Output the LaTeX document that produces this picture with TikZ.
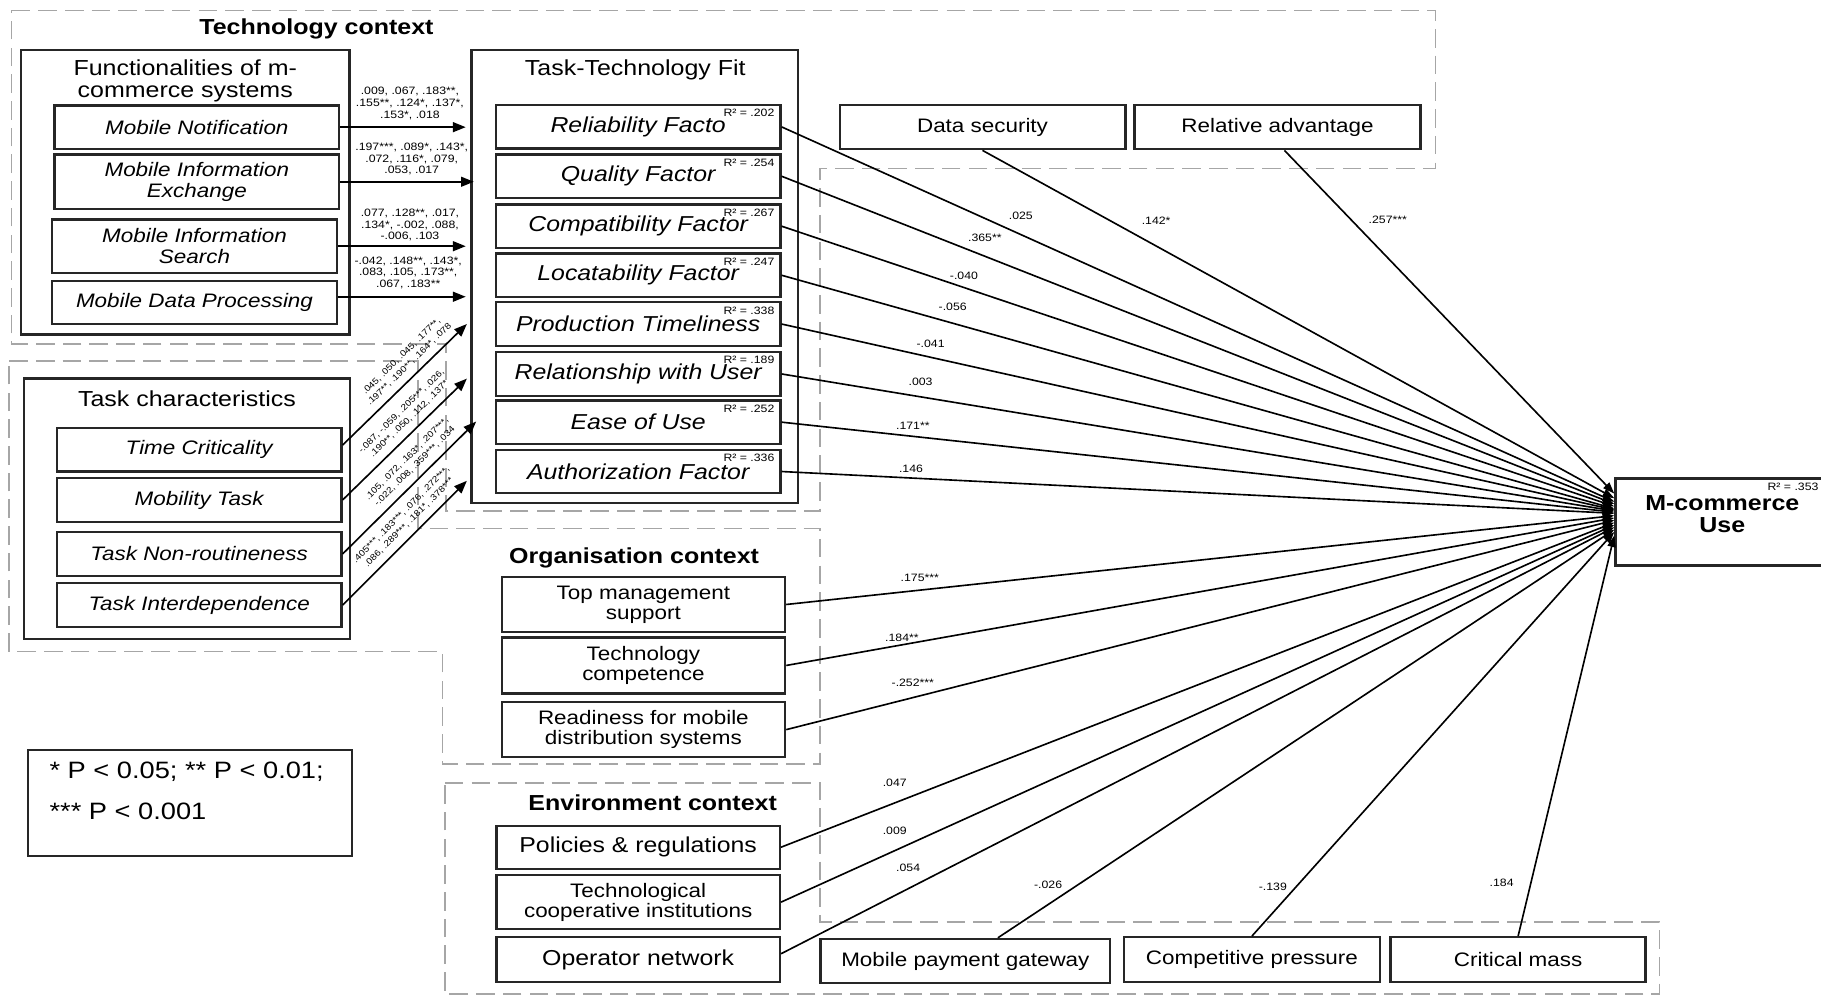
\documentclass[tikz,border=0pt]{standalone}
\usepackage{fontspec}
\setmainfont{Liberation Sans}[FakeStretch=1.15]
\usetikzlibrary{arrows.meta,calc}
\newcommand\fsz[2]{\fontsize{#1pt}{#2pt}\selectfont}
\begin{document}
\begin{tikzpicture}[x=1pt,y=-1pt,
  ctx/.style={draw=black!35, line width=1.5pt, dash pattern=on 16pt off 7pt},
  frm/.style={draw=black!85, line width=2pt, inner sep=0pt},
  box/.style={draw=black!85, line width=2pt, inner sep=0pt, align=center, minimum width=245pt, minimum height=37.5pt},
  ib/.style={box, font=\fsz{16.8}{18}\itshape},
  tb/.style={box, font=\fsz{18.6}{20}\itshape},
  kb/.style={box, font=\fsz{16.8}{17}},
  eb/.style={box, font=\fsz{18.6}{20}},
  ttl/.style={inner sep=0pt, align=center, font=\fsz{18.7}{19}},
  ctitle/.style={inner sep=0pt, align=center, font=\fsz{18.7}{19}\bfseries},
  rsq/.style={inner sep=0pt, anchor=east, font=\fsz{9.2}{10}},
  coef/.style={inner sep=0pt, font=\fsz{9.2}{10}},
  flab/.style={inner sep=0pt, align=center, font=\fsz{9.2}{10}},
  tlab/.style={inner sep=0pt, align=center, font=\fsz{7.5}{9.5}},
  arr/.style={line width=1.4pt, -{Triangle[length=11pt,width=8.5pt]}},
  mcarr/.style={line width=1.4pt, -{Triangle[length=10pt,width=7pt]}},
]
\useasboundingbox (0,0) rectangle (1568,857);

% context outlines
\draw[ctx] (10,9) -- (1236,9) -- (1236,145) -- (706,145) -- (706,440) -- (384,440) -- (384,296) -- (10,296) -- cycle;
\draw[ctx] (8,311) -- (360,311) -- (360,455) -- (706,455) -- (706,658) -- (381,658) -- (381,561) -- (8,561) -- cycle;
\draw[ctx] (383,674) -- (706,674) -- (706,794) -- (1429,794) -- (1429,856) -- (383,856) -- cycle;

\node[ctitle] (techt) at (272.5,25) {Technology context};
\node[ctitle] (orgt) at (546,480.6) {Organisation context};
\node[ctitle] (envt) at (562,691.6) {Environment context};

% functionalities
\node[frm, minimum width=283pt, minimum height=245pt] (fun) at (159.5,165.5) {};
\node[ttl] (funt) at (159.5,69.5) {Functionalities of m-\\commerce systems};
\node[ib] (fn1) at (169.5,109.5) {Mobile Notification};
\node[ib, minimum height=47pt] (fn2) at (169.5,156.5) {Mobile Information\\Exchange};
\node[ib, minimum height=46pt] (fn3) at (167.5,212) {Mobile Information\\Search};
\node[ib, minimum height=37pt] (fn4) at (167.5,260.5) {Mobile Data Processing};

% task-technology fit
\node[frm, minimum width=281pt, minimum height=390pt] (ttf) at (546.5,238) {};
\node[ttl] (ttft) at (547,60) {Task-Technology Fit};
\node[tb] (r1) at (549.5,109.25) {Reliability Facto};
\node[tb] (r2) at (549.5,151.75) {Quality Factor};
\node[tb] (r3) at (549.5,194.75) {Compatibility Factor};
\node[tb] (r4) at (549.5,237) {Locatability Factor};
\node[tb] (r5) at (549.5,279) {Production Timeliness};
\node[tb] (r6) at (549.5,322) {Relationship with User};
\node[tb] (r7) at (549.5,363.5) {Ease of Use};
\node[tb] (r8) at (549.5,406) {Authorization Factor};
\node[rsq] (q1) at ($(r1.north east)+(-6,8)$) {R² = .202};
\node[rsq] (q2) at ($(r2.north east)+(-6,8)$) {R² = .254};
\node[rsq] (q3) at ($(r3.north east)+(-6,8)$) {R² = .267};
\node[rsq] (q4) at ($(r4.north east)+(-6,8)$) {R² = .247};
\node[rsq] (q5) at ($(r5.north east)+(-6,8)$) {R² = .338};
\node[rsq] (q6) at ($(r6.north east)+(-6,8)$) {R² = .189};
\node[rsq] (q7) at ($(r7.north east)+(-6,8)$) {R² = .252};
\node[rsq] (q8) at ($(r8.north east)+(-6,8)$) {R² = .336};

% task characteristics
\node[frm, minimum width=281pt, minimum height=224pt] (task) at (161,438) {};
\node[ttl] (taskt) at (161,343.5) {Task characteristics};
\node[ib] (t1) at (171.5,387.25) {Time Criticality};
\node[ib] (t2) at (171.5,430.5) {Mobility Task};
\node[ib, minimum height=38pt] (t3) at (171.5,477) {Task Non-routineness};
\node[ib, minimum height=38pt] (t4) at (171.5,521) {Task Interdependence};

% organisation
\node[kb, minimum width=244pt, minimum height=47pt] (o1) at (554,520.5) {Top management\\support};
\node[kb, minimum width=244pt, minimum height=48pt] (o2) at (554,573) {Technology\\competence};
\node[kb, minimum width=244pt, minimum height=47.5pt] (o3) at (554,628.25) {Readiness for mobile\\distribution systems};

% environment
\node[eb, minimum width=244pt, minimum height=37pt] (e1) at (549.5,729.5) {Policies \& regulations};
\node[kb, minimum width=244pt, minimum height=46.4pt] (e2) at (549.5,776.8) {Technological\\cooperative institutions};
\node[eb, minimum width=244pt, minimum height=38.5pt] (e3) at (549.5,826.25) {Operator network};
\node[kb, minimum width=249.5pt, minimum height=38pt] (b1) at (831.25,827.5) {Mobile payment gateway};
\node[kb, minimum width=220pt, minimum height=38.5pt] (b2) at (1078,826.25) {Competitive pressure};
\node[kb, minimum width=219.6pt, minimum height=38.5pt] (b3) at (1307.2,826.25) {Critical mass};

% technology right
\node[kb, minimum width=246pt, minimum height=38pt] (d1) at (846,109.5) {Data security};
\node[kb, minimum width=246pt, minimum height=38pt] (d2) at (1100,109.5) {Relative advantage};

% outcome
\node[frm, minimum width=184pt, minimum height=75pt] (mc) at (1483,449.5) {};
\node[ctitle] (mct) at (1483,443) {M-commerce\\Use};
\node[rsq] (mcq) at (1566,419) {R² = .353};

% legend
\node[frm, minimum width=278.6pt, minimum height=91pt] (leg) at (163.7,691.5) {};
\node[anchor=base west, inner sep=0pt, font=\fsz{20.4}{22}] (leg1) at (42.5,670) {* P < 0.05; ** P < 0.01;};
\node[anchor=base west, inner sep=0pt, font=\fsz{20.4}{22}] (leg2) at (42.5,705.6) {*** P < 0.001};

% functionalities -> TTF
\draw[arr, shorten >=4pt] (fn1.east) -- (fn1.east -| ttf.west);
\draw[arr, shorten >=-3pt] (fn2.east) -- (fn2.east -| ttf.west);
\draw[arr, shorten >=4pt] (fn3.east) -- (fn3.east -| ttf.west);
\draw[arr, shorten >=4pt] ($(fn4.east)+(0,-5)$) -- ($(fn4.east -| ttf.west)+(0,-5)$);
\node[flab] (fl1) at (353,89) {.009, .067, .183**,\\.155**, .124*, .137*,\\.153*, .018};
\node[flab] (fl2) at (354.5,137) {.197***, .089*, .143*,\\.072, .116*, .079,\\.053, .017};
\node[flab] (fl3) at (353,194) {.077, .128**, .017,\\.134*, -.002, .088,\\-.006, .103};
\node[flab] (fl4) at (351.5,235) {-.042, .148**, .143*,\\.083, .105, .173**,\\.067, .183**};

% task -> TTF
\draw[arr] ($(t1.east)+(0,-4)$) -- ($(ttf.north west)+(-3,237)$) node[tlab, sloped, pos=0.6, above=6pt] (tl1) {.045, .050, .045, .177**,\\.197**, .190**, .164*, .078};
\draw[arr] (t2.east) -- ($(ttf.north west)+(-3,284)$) node[tlab, sloped, pos=0.6, above=6pt] (tl2) {-.087, -.059, .205***, .026,\\.190**, .050, .112, .137*};
\draw[arr] (t3.east) -- ($(ttf.north west)+(5,321)$) node[tlab, sloped, pos=0.6, above=6pt] (tl3) {.105, .072, .163*, .207***,\\-.022, .008, .359***, .034};
\draw[arr] (t4.east) -- ($(ttf.north west)+(-3,372)$) node[tlab, sloped, pos=0.6, above=6pt] (tl4) {.405***, .183***, .076, .272***,\\.086, .289***, .181*, .378***};

% everything -> M-commerce use
\draw[mcarr] ($(d2.south)+(6,0)$) -- ($(mc.north west)+(0,14)$);
\draw[mcarr] (d1.south) -- ($(mc.north west)+(0,18)$);
\draw[mcarr] (r1.east) -- ($(mc.north west)+(0,21)$);
\draw[mcarr] (r2.east) -- ($(mc.north west)+(0,23)$);
\draw[mcarr] (r3.east) -- ($(mc.north west)+(0,25)$);
\draw[mcarr] (r4.east) -- ($(mc.north west)+(0,27)$);
\draw[mcarr] (r5.east) -- ($(mc.north west)+(0,28)$);
\draw[mcarr] (r6.east) -- ($(mc.north west)+(0,29)$);
\draw[mcarr] (r7.east) -- ($(mc.north west)+(0,30)$);
\draw[mcarr] (r8.east) -- ($(mc.north west)+(0,31)$);
\draw[mcarr] (o1.east) -- ($(mc.north west)+(0,33)$);
\draw[mcarr] (o2.east) -- ($(mc.north west)+(0,35)$);
\draw[mcarr] (o3.east) -- ($(mc.north west)+(0,37)$);
\draw[mcarr] (e1.east) -- ($(mc.north west)+(0,39)$);
\draw[mcarr] (e2.east) -- ($(mc.north west)+(0,41)$);
\draw[mcarr] ($(e3.east)+(0,-5)$) -- ($(mc.north west)+(0,43)$);
\draw[mcarr] ($(b1.north)+(28,0)$) -- ($(mc.north west)+(0,45)$);
\draw[mcarr] (b2.north) -- ($(mc.north west)+(0,47)$);
\draw[mcarr] (b3.north) -- ($(mc.north west)+(0,50)$);

% path coefficients
\node[coef] (k1) at (1195,189.4) {.257***};
\node[coef] (k2) at (995.5,190) {.142*};
\node[coef] (k3) at (879,186) {.025};
\node[coef] (k4) at (848,205) {.365**};
\node[coef] (k5) at (830,237.7) {-.040};
\node[coef] (k6) at (820.3,264) {-.056};
\node[coef] (k7) at (801.3,296) {-.041};
\node[coef] (k8) at (792.7,328.6) {.003};
\node[coef] (k9) at (786,366.5) {.171**};
\node[coef] (k10) at (784.4,403.5) {.146};
\node[coef] (k11) at (792,497.7) {.175***};
\node[coef] (k12) at (776.6,549) {.184**};
\node[coef] (k13) at (786,588) {-.252***};
\node[coef] (k14) at (770.4,674) {.047};
\node[coef] (k15) at (770.4,715) {.009};
\node[coef] (k16) at (782,747.6) {.054};
\node[coef] (k17) at (902.5,762) {-.026};
\node[coef] (k18) at (1096,763.5) {-.139};
\node[coef] (k19) at (1293,760.5) {.184};
\end{tikzpicture}
\end{document}
